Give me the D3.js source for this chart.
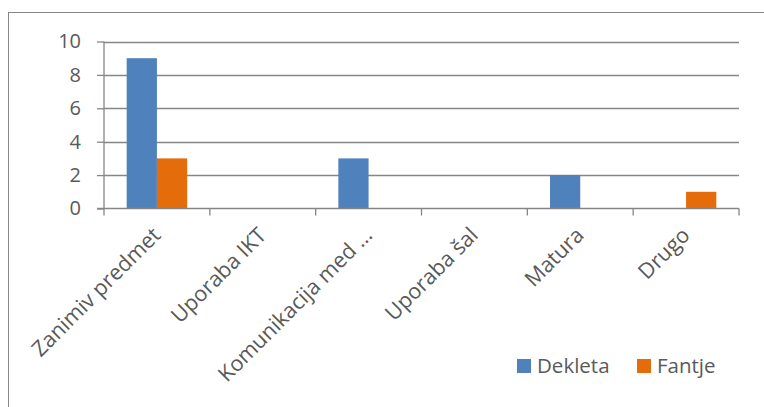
<!DOCTYPE html>
<html><head><meta charset="utf-8">
<script src="https://cdn.jsdelivr.net/npm/d3@7"></script>
<style>body{margin:0;background:#fff}svg{display:block}text{font-family:"Open Sans",sans-serif;fill:#595959}</style>
</head><body><svg id="c" width="764" height="407"></svg>
<script>
const categories = ["Zanimiv predmet","Uporaba IKT","Komunikacija med …","Uporaba šal","Matura","Drugo"];
const seriesNames = ["Dekleta","Fantje"];
const dekleta = [9,0,3,0,2,0];
const fantje = [3,0,0,0,0,1];
const yTicks = [0,2,4,6,8,10];
const colors = ["#4F81BD","#E46C0A"];

const svg = d3.select("#c");
const W=764,H=407;
const m = {l:104, r:739, t:41.5, b:208.5};
svg.append("rect").attr("x",8.5).attr("y",12.5).attr("width",W).attr("height",H)
  .attr("fill","#fff").attr("stroke","#868686").attr("stroke-width",1);

const x = d3.scaleBand().domain(categories).range([m.l,m.r]);
const xs = d3.scaleBand().domain(seriesNames).range([0,x.bandwidth()]).paddingInner(0).paddingOuter(0.75);
const y = d3.scaleLinear().domain([0,10]).range([m.b,m.t]);

// gridlines
svg.append("g").selectAll("line").data(yTicks.filter(d=>d>0)).join("line")
  .attr("x1",m.l).attr("x2",m.r).attr("y1",d=>Math.round(y(d))+0.5).attr("y2",d=>Math.round(y(d))+0.5)
  .attr("stroke","#868686").attr("stroke-width",1.3);

const data = categories.map((c,i)=>({c, v:[dekleta[i],fantje[i]]}));
const g = svg.append("g");
data.forEach(d=>{
  seriesNames.forEach((s,j)=>{
    if(d.v[j]>0) g.append("rect").attr("x",x(d.c)+xs(s)).attr("width",xs.bandwidth())
      .attr("y",y(d.v[j])).attr("height",y(0)-y(d.v[j])).attr("fill",colors[j]);
  });
});

// y axis
const ya = svg.append("g").attr("transform",`translate(${m.l},0)`)
  .call(d3.axisLeft(y).tickValues(yTicks).tickSize(7).tickPadding(16).tickFormat(d3.format("d")));
ya.select(".domain").attr("stroke","#868686").attr("stroke-width",1.3).attr("d",`M0,${m.t}V${m.b}`);
ya.selectAll(".tick line").attr("stroke","#868686").attr("stroke-width",1.3);
ya.selectAll(".tick text").attr("font-size",20).attr("fill","#595959").attr("font-family","Open Sans");

// x axis
const xa = svg.append("g").attr("transform",`translate(0,${m.b})`);
xa.append("line").attr("x1",m.l-7).attr("x2",m.r).attr("y1",0).attr("y2",0).attr("stroke","#868686").attr("stroke-width",1.3);
const bounds = [m.l, ...categories.map(c=>x(c)+x.bandwidth())];
xa.selectAll("line.t").data(bounds).join("line").attr("class","t")
  .attr("x1",d=>d).attr("x2",d=>d).attr("y1",0).attr("y2",7).attr("stroke","#868686").attr("stroke-width",1.3);
xa.selectAll("text.l").data(categories).join("text").attr("class","l")
  .attr("text-anchor","end").attr("font-size",21.5)
  .attr("transform",d=>`translate(${x(d)+x.bandwidth()/2+5},${28}) rotate(-45)`)
  .text(d=>d);

// legend
const lg = svg.append("g");
const lx = [517,637];
seriesNames.forEach((s,j)=>{
  lg.append("rect").attr("x",lx[j]).attr("y",359).attr("width",14).attr("height",14).attr("fill",colors[j]);
  lg.append("text").attr("x",lx[j]+20).attr("y",373).attr("font-size",20.5).text(s);
});
</script></body></html>
